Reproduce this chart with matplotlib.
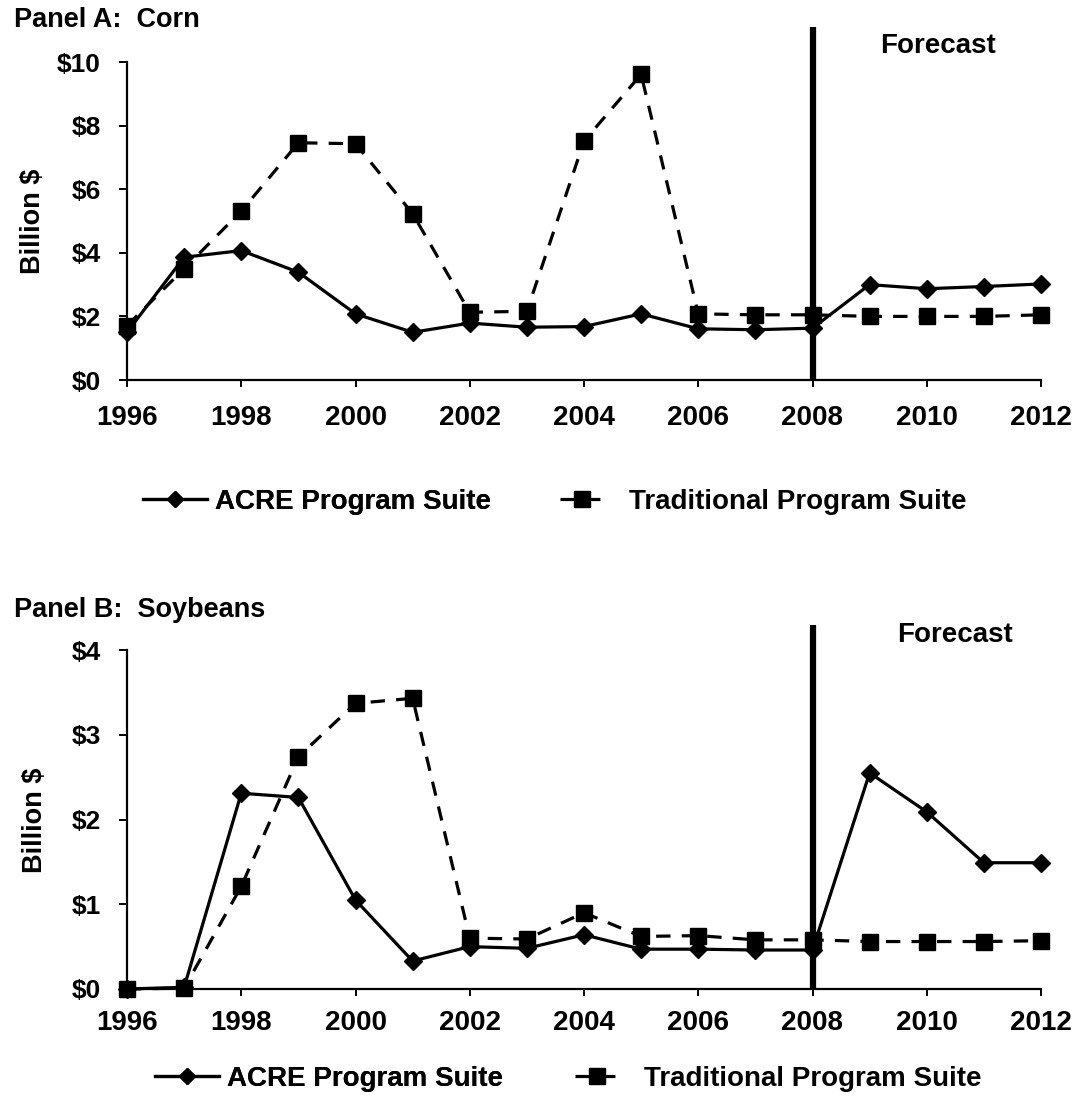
import numpy as np
import matplotlib
matplotlib.use("Agg")
import matplotlib.pyplot as plt

plt.rcParams['font.family'] = ['Liberation Sans', 'DejaVu Sans']
plt.rcParams['font.weight'] = 'bold'

# data
years = list(range(1996, 2013))

corn_acre = [1.5, 3.86, 4.07, 3.39, 2.08, 1.50, 1.79, 1.66, 1.68, 2.08,
             1.61, 1.58, 1.63, 3.0, 2.87, 2.94, 3.02]
corn_trad = [1.71, 3.5, 5.31, 7.46, 7.43, 5.23, 2.13, 2.16, 7.51, 9.61,
             2.08, 2.05, 2.05, 2.0, 2.0, 2.0, 2.05]

soy_acre = [0.0, 0.02, 2.31, 2.26, 1.05, 0.33, 0.50, 0.48, 0.64, 0.47,
            0.47, 0.46, 0.46, 2.55, 2.09, 1.49, 1.49]
soy_trad = [0.0, 0.01, 1.21, 2.74, 3.37, 3.43, 0.60, 0.59, 0.90, 0.62,
            0.63, 0.58, 0.58, 0.56, 0.56, 0.56, 0.57]

x_ticks = list(range(1996, 2013, 2))
corn_yticks = [0, 2, 4, 6, 8, 10]
soy_yticks = [0, 1, 2, 3, 4]
forecast_year = 2008

W, H = 1076, 1097
fig = plt.figure(figsize=(W / 100, H / 100), dpi=100)

FS = 20      # legend, forecast, x ticks
FS_Y = 19    # y tick labels
FS_T = 19.5  # titles, y label


def px_axes(left, right, top, bottom):
    return fig.add_axes([left / W, 1 - bottom / H, (right - left) / W, (bottom - top) / H])


def draw_panel(ax, acre, trad, yticks, line_top, fc_x, fc_y, xpad):
    ax.plot(years, acre, color='black', lw=2.3, marker='D', ms=9,
            clip_on=False, zorder=3)
    ax.plot(years, trad, color='black', lw=2.3, ls=(0, (4.5, 3.5)), marker='s',
            ms=12, clip_on=False, zorder=3)
    ax.plot([forecast_year, forecast_year], [0, line_top], color='black',
            lw=4.5, clip_on=False, zorder=4, solid_capstyle='butt')
    ax.text(fc_x, fc_y, 'Forecast', ha='center', va='center',
            fontsize=FS, fontweight='bold')
    ax.set_xlim(1996, 2012)
    ax.set_ylim(yticks[0], yticks[-1])
    ax.set_xticks(x_ticks)
    ax.set_yticks(yticks)
    ax.set_yticklabels(['$%d' % v for v in yticks])
    for s in ['top', 'right']:
        ax.spines[s].set_visible(False)
    for s in ['left', 'bottom']:
        ax.spines[s].set_linewidth(1.6)
    ax.tick_params(axis='y', direction='out', length=6, width=1.4,
                   labelsize=FS_Y, pad=13)
    ax.tick_params(axis='x', direction='out', length=5, width=1.4,
                   labelsize=FS, pad=xpad)


axA = px_axes(127, 1041, 62, 380)
draw_panel(axA, corn_acre, corn_trad, corn_yticks, 11.1, 2010.2, 10.5, 13)

axB = px_axes(127, 1041, 650, 989)
draw_panel(axB, soy_acre, soy_trad, soy_yticks, 4.3, 2010.5, 4.18, 10)

fig.text(14 / W, 1 - 20 / H, 'Panel A:  Corn', ha='left', va='center',
         fontsize=FS_T, fontweight='bold')
fig.text(14 / W, 1 - 610 / H, 'Panel B:  Soybeans', ha='left', va='center',
         fontsize=FS_T, fontweight='bold')
fig.text(33 / W, 1 - 221 / H, 'Billion $', rotation=90, ha='center',
         va='center', fontsize=FS_T, fontweight='bold')
fig.text(35 / W, 1 - 820 / H, 'Billion $', rotation=90, ha='center',
         va='center', fontsize=FS_T, fontweight='bold')


# legends below each panel
def add_legends(ax, y, x1, x2):
    h1, = ax.plot([], [], color='black', lw=2.3, marker='D', ms=8)
    h2, = ax.plot([], [], color='black', lw=2.3, ls=(0, (4.5, 3.5)), marker='s', ms=11)
    leg1 = fig.legend([h1], ['ACRE Program Suite'], loc='center left',
                      bbox_to_anchor=(x1 / W, 1 - y / H), frameon=False,
                      fontsize=FS, borderpad=0, borderaxespad=0,
                      handlelength=2.3, handletextpad=0.3)
    fig.legend([h2], ['Traditional Program Suite'], loc='center left',
               bbox_to_anchor=(x2 / W, 1 - y / H), frameon=False,
               fontsize=FS, borderpad=0, borderaxespad=0,
               handlelength=1.6, handletextpad=0.9)
    fig.add_artist(leg1)


add_legends(axA, 502, 143, 560)
add_legends(axB, 1079, 155, 575)

fig.savefig('out.png', dpi=100)
